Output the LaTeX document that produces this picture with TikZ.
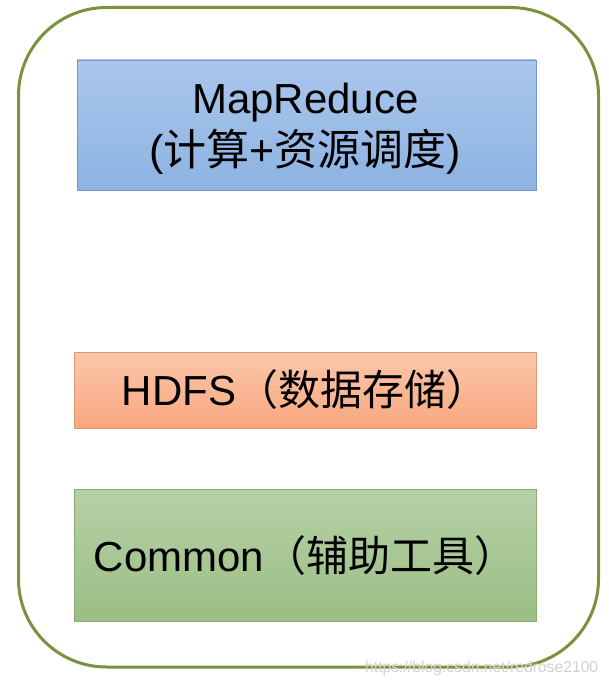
\documentclass[tikz,border=0pt]{standalone}
\usepackage{fontspec}
\setmainfont{Liberation Sans}
\newfontfamily\cjk{Noto Sans CJK SC}
\definecolor{outerg}{HTML}{77933C}
\definecolor{mrtop}{HTML}{AAC6EC}
\definecolor{mrbot}{HTML}{8DB3E2}
\definecolor{mrline}{HTML}{7495C8}
\definecolor{hdtop}{HTML}{FBC7AB}
\definecolor{hdbot}{HTML}{F9A77F}
\definecolor{hdline}{HTML}{DB9A74}
\definecolor{cmtop}{HTML}{B6D0A7}
\definecolor{cmbot}{HTML}{9BBE84}
\definecolor{cmline}{HTML}{8BAA74}
\definecolor{wmgray}{HTML}{D2D2D2}
\tikzset{
  layerbox/.style={rectangle, line width=0.9pt, inner sep=0pt},
  lbl/.style={inner sep=0pt, font=\fontsize{42}{50}\selectfont, text=black},
}
\begin{document}
\begin{tikzpicture}[x=1pt,y=-1pt]
\useasboundingbox[fill=white] (0,0) rectangle (608,685);
\node[draw=outerg, line width=3pt, rounded corners=88pt, minimum width=580pt, minimum height=659.5pt, inner sep=0pt] (outer) at (308.5,337.25) {};
\node[layerbox, top color=mrtop, bottom color=mrbot, draw=mrline, minimum width=459pt, minimum height=130pt] (mr) at (306.5,125) {};
\node[layerbox, top color=hdtop, bottom color=hdbot, draw=hdline, minimum width=462pt, minimum height=76pt] (hd) at (305,390) {};
\node[layerbox, top color=cmtop, bottom color=cmbot, draw=cmline, minimum width=462pt, minimum height=132pt] (cm) at (305,555) {};
\node[lbl, anchor=base] (mrA) at (305.5,113) {MapReduce};
\node[lbl, anchor=base, font=\fontsize{43}{50}\selectfont] (mrB) at (305,165) {({\cjk 计算}+{\cjk 资源调度})};
\node[lbl, anchor=base] (hdT) at (305,405) {HDFS{\cjk （数据存储）}};
\node[lbl, anchor=base] (cmT) at (305,571) {Common{\cjk （辅助工具）}};
\node[anchor=base west, inner sep=0pt, text=wmgray, font=\fontsize{15.7}{18}\selectfont] (wm) at (365,672) {https://blog.csdn.net/redrose2100};
\end{tikzpicture}
\end{document}
